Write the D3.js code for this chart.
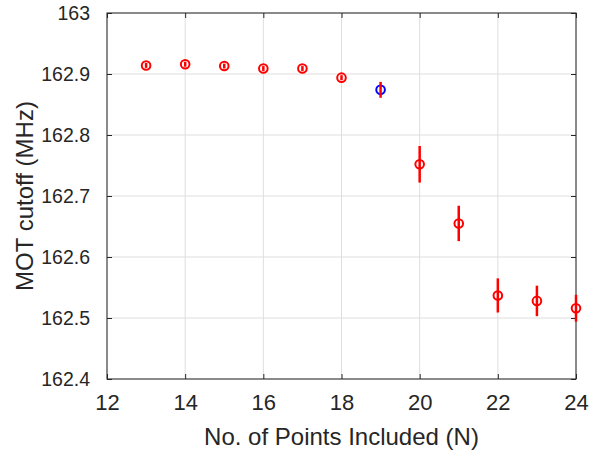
<!DOCTYPE html>
<html>
<head>
<meta charset="utf-8">
<script src="https://cdn.jsdelivr.net/npm/d3@7"></script>
<style>
  body { margin: 0; background: #fff; }
  svg text { font-family: "Liberation Sans", Arial, sans-serif; fill: #262626; }
</style>
</head>
<body>
<div class="container"></div>
<script>
// data
const pointsN = [13, 14, 15, 16, 17, 18, 19, 20, 21, 22, 23, 24];
const cutoff = [162.914, 162.916, 162.913, 162.909, 162.909, 162.894, 162.874, 162.752, 162.655, 162.537, 162.528, 162.516];
const cutoffErr = [0.004, 0.004, 0.004, 0.004, 0.004, 0.004, 0.013, 0.030, 0.029, 0.028, 0.025, 0.022];
const highlightN = [19];

const xTicks = [12, 14, 16, 18, 20, 22, 24];
const yTicks = [162.4, 162.5, 162.6, 162.7, 162.8, 162.9, 163];

const W = 589, H = 454;
const margin = { top: 13, right: 13, bottom: 75, left: 107 };
const width = W - margin.left - margin.right,
    height = H - margin.top - margin.bottom;

const svg = d3.select(".container")
    .append("svg")
    .attr("width", W)
    .attr("height", H);

const g = svg.append("g")
    .attr("transform", `translate(${margin.left}, ${margin.top})`);

const x = d3.scaleLinear().domain([12, 24]).range([0, width]);
const y = d3.scaleLinear().domain([162.4, 163]).range([height, 0]);

// GRID
g.append("g")
    .selectAll("line")
    .data(xTicks)
    .enter()
    .append("line")
    .attr("x1", d => x(d)).attr("x2", d => x(d))
    .attr("y1", 0).attr("y2", height)
    .attr("stroke", "#dedede");

g.append("g")
    .selectAll("line")
    .data(yTicks)
    .enter()
    .append("line")
    .attr("x1", 0).attr("x2", width)
    .attr("y1", d => y(d)).attr("y2", d => y(d))
    .attr("stroke", "#dedede");

// AXES (ticks inward, box on)
const tickLen = 5;
const xAxis = d3.axisBottom(x).tickValues(xTicks).tickFormat(d3.format("d")).tickSizeInner(-tickLen).tickSizeOuter(0).tickPadding(15);
const yAxis = d3.axisLeft(y).tickValues(yTicks).tickFormat(d => d3.format("")(+d.toFixed(1))).tickSizeInner(-tickLen).tickSizeOuter(0).tickPadding(17);

g.append("g")
    .attr("class", "xax")
    .attr("transform", `translate(0, ${height})`)
    .call(xAxis)
    .call(s => s.select(".domain").remove());

g.append("g")
    .attr("class", "yax")
    .call(yAxis)
    .call(s => s.select(".domain").remove());

g.append("g")
    .call(d3.axisTop(x).tickValues(xTicks).tickFormat("").tickSizeInner(-tickLen).tickSizeOuter(0))
    .call(s => s.select(".domain").remove());

g.append("g")
    .attr("transform", `translate(${width}, 0)`)
    .call(d3.axisRight(y).tickValues(yTicks).tickFormat("").tickSizeInner(-tickLen).tickSizeOuter(0))
    .call(s => s.select(".domain").remove());

g.selectAll(".tick line").attr("stroke", "#262626");
g.selectAll(".tick text").attr("fill", "#262626");
g.selectAll(".xax .tick text").style("font-size", "22px");
g.selectAll(".yax .tick text").style("font-size", "19.5px");

g.append("rect")
    .attr("width", width)
    .attr("height", height)
    .attr("fill", "none")
    .attr("stroke", "#262626")
    .attr("stroke-width", 1);

// DATA
const data = pointsN.map((n, i) => ({ n: n, v: cutoff[i], e: cutoffErr[i] }));

// markers
g.selectAll("circle.pt")
    .data(data)
    .enter()
    .append("circle")
    .attr("class", "pt")
    .attr("cx", d => x(d.n))
    .attr("cy", d => y(d.v))
    .attr("r", 4.3)
    .attr("fill", "none")
    .attr("stroke", d => highlightN.includes(d.n) ? "#0000ff" : "#ff0000")
    .attr("stroke-width", 2);

// error bars
g.selectAll("line.err")
    .data(data)
    .enter()
    .append("line")
    .attr("class", "err")
    .attr("x1", d => x(d.n)).attr("x2", d => x(d.n))
    .attr("y1", d => y(d.v - d.e))
    .attr("y2", d => y(d.v + d.e))
    .attr("stroke", "#ff0000")
    .attr("stroke-width", 2.5);

// LABELS
svg.append("text")
    .attr("x", margin.left + width / 2)
    .attr("y", 445)
    .attr("text-anchor", "middle")
    .style("font-size", "24px")
    .text("No. of Points Included (N)");

svg.append("text")
    .attr("transform", `translate(33, ${margin.top + height / 2}) rotate(-90)`)
    .attr("text-anchor", "middle")
    .style("font-size", "24px")
    .text("MOT cutoff (MHz)");
</script>
</body>
</html>
